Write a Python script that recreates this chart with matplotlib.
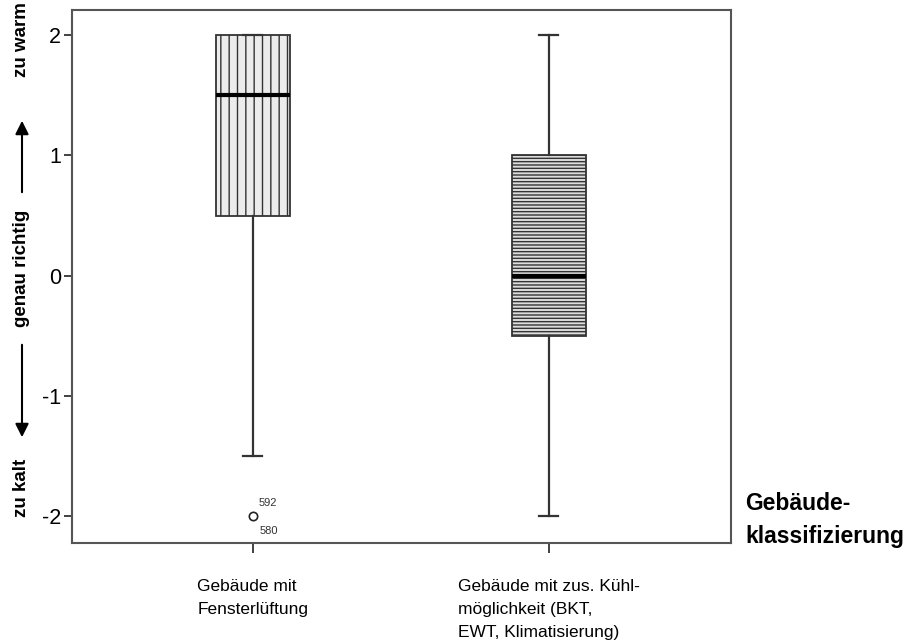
import matplotlib.pyplot as plt
from matplotlib.patches import FancyArrowPatch

plt.rcParams['font.family'] = ['Liberation Sans', 'DejaVu Sans']

# Data
categories = ['Gebäude mit\nFensterlüftung',
              'Gebäude mit zus. Kühl-\nmöglichkeit (BKT,\nEWT, Klimatisierung)']
q1_vals = [0.5, -0.5]
medians = [1.5, 0.0]
q3_vals = [2.0, 1.0]
whisk_lo = [-1.5, -2.0]
whisk_hi = [2.0, 2.0]
outliers = [[-2.0], []]
outlier_ids = ['592', '580']
yticks = [-2, -1, 0, 1, 2]

stats = []
for i in range(len(categories)):
    stats.append({'med': medians[i], 'q1': q1_vals[i], 'q3': q3_vals[i],
                  'whislo': whisk_lo[i], 'whishi': whisk_hi[i],
                  'fliers': outliers[i], 'label': categories[i]})

fig = plt.figure(figsize=(9.13, 6.43), dpi=100)
ax = fig.add_axes([72 / 913, 1 - 543 / 643, 659 / 913, 533 / 643])

line_col = '#333333'
plt.rcParams['hatch.linewidth'] = 1.0
bp = ax.bxp(stats, positions=[1, 2], widths=0.25, patch_artist=True,
            boxprops=dict(linewidth=1.3, edgecolor=line_col),
            whiskerprops=dict(linewidth=1.6, color=line_col),
            capprops=dict(linewidth=1.6, color=line_col),
            medianprops=dict(linewidth=3, color='black'),
            flierprops=dict(marker='o', markersize=6, markerfacecolor='white',
                            markeredgecolor='#222222', markeredgewidth=1.2),
            capwidths=0.065)

# box fills: dotted vertical pattern vs. horizontal stripes
bp['boxes'][0].set_facecolor('#ececec')
bp['boxes'][0].set_hatch('||')
bp['boxes'][1].set_facecolor('#dcdcdc')
bp['boxes'][1].set_hatch('-----')
bp['boxes'][0]._hatch_color = (0.62, 0.62, 0.62, 1.0)
bp['boxes'][1]._hatch_color = (0.42, 0.42, 0.42, 1.0)
for b in bp['boxes']:
    b.set_edgecolor(line_col)

# outlier case numbers
ax.annotate(outlier_ids[0], (1, outliers[0][0]), xytext=(4, 7), textcoords='offset points',
            fontsize=8, color='#333333')
ax.annotate(outlier_ids[1], (1, outliers[0][0]), xytext=(5, -13), textcoords='offset points',
            fontsize=8, color='#333333')

ax.set_xlim(0.39, 2.615)
ax.set_ylim(-2.225, 2.21)
ax.set_yticks(yticks)
ax.set_yticklabels([str(t) for t in yticks], fontsize=15.5)
ax.set_xticks([1, 2])
ax.set_xticklabels(categories, fontsize=12.5, multialignment='left', linespacing=1.68)
ax.tick_params(axis='x', length=7, width=1.3, color=line_col, pad=19)
ax.tick_params(axis='y', length=6, width=1.3, color=line_col, pad=2)
for s in ax.spines.values():
    s.set_color('#555555')
    s.set_linewidth(1.5)

# y-axis annotation with arrows
lab = dict(rotation=90, fontsize=13.5, fontweight='bold', ha='center', va='center')
fig.text(22 / 913, 1 - 40 / 643, 'zu warm', **lab)
fig.text(22 / 913, 1 - 268 / 643, 'genau richtig', **lab)
fig.text(22 / 913, 1 - 488 / 643, 'zu kalt', **lab)
fig.patches.append(FancyArrowPatch(
    (22 / 913, 1 - 195 / 643), (22 / 913, 1 - 118 / 643), transform=fig.transFigure,
    arrowstyle='-|>,head_length=8,head_width=4', linewidth=1.5, color='black'))
fig.patches.append(FancyArrowPatch(
    (22 / 913, 1 - 342 / 643), (22 / 913, 1 - 440 / 643), transform=fig.transFigure,
    arrowstyle='-|>,head_length=8,head_width=4', linewidth=1.5, color='black'))

fig.text(745 / 913, 1 - 520 / 643, 'Gebäude-\nklassifizierung', fontsize=16.5,
         fontweight='bold', ha='left', va='center', linespacing=1.6)

fig.savefig('out.png', dpi=100)
